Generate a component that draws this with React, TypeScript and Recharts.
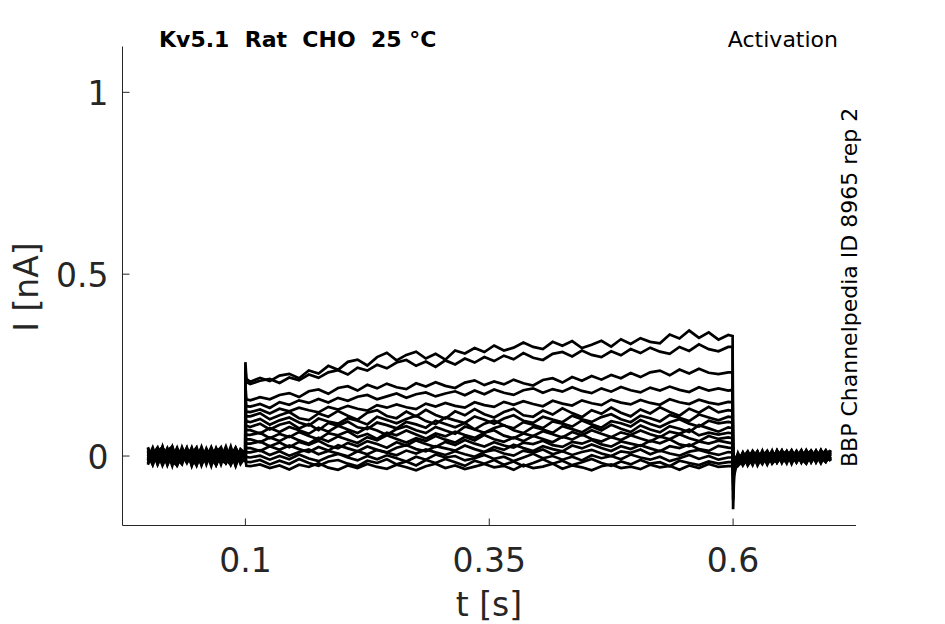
import React from 'react';
import { LineChart, Line, XAxis, YAxis } from 'recharts';

// sample times [s]
const preTimes = [0, 0.005, 0.01, 0.015, 0.02, 0.025, 0.03, 0.035, 0.04, 0.045, 0.05, 0.055, 0.06, 0.065, 0.07, 0.075, 0.08, 0.085, 0.09, 0.095];
const onsetTimes = [0.0999, 0.1, 0.101];
const stepTimes = [
  0.105, 0.115, 0.125, 0.135, 0.145, 0.155, 0.165, 0.175, 0.185, 0.195,
  0.205, 0.215, 0.225, 0.235, 0.245, 0.255, 0.265, 0.275, 0.285, 0.295,
  0.305, 0.315, 0.325, 0.335, 0.345, 0.355, 0.365, 0.375, 0.385, 0.395,
  0.405, 0.415, 0.425, 0.435, 0.445, 0.455, 0.465, 0.475, 0.485, 0.495,
  0.505, 0.515, 0.525, 0.535, 0.545, 0.555, 0.565, 0.575, 0.585, 0.595,
];
const offsetTimes = [0.5995, 0.6, 0.601, 0.603];
const postTimes = [0.605, 0.61, 0.615, 0.62, 0.625, 0.63, 0.635, 0.64, 0.645, 0.65, 0.655, 0.66, 0.665, 0.67, 0.675, 0.68, 0.685, 0.69, 0.695, 0.7];

// sweeps in pA: baseline / onset / step / offset / tail
const sweep01 = [
  11, -16, 20, 3, -8, 25, -22, -5, 16, -27, 8, 14, -4, -19, 12, 22, -10, -24, 5, 13,
  6, 258, 212,
  204, 215, 206, 221, 226, 214, 235, 227, 248, 237, 259, 265, 249, 272, 284, 263, 278, 287, 268, 281,
  265, 290, 282, 297, 286, 304, 290, 298, 312, 300, 294, 314, 303, 316, 297, 306, 317, 301, 321, 308,
  324, 314, 310, 334, 323, 345, 325, 340, 320, 333,
  330, -146, -55, -30,
  -24, -6, -19, 5, -14, 9, -22, -3, 12, -17, 2, -11, 14, -8, -21, 6, -4, 15, -13, 3,
];
const sweep02 = [
  -20, 9, -5, 22, 2, -15, -26, 17, -11, 7, 24, -21, -3, 15, -17, -7, 26, -12, 8, -18,
  -8, 240, 203,
  198, 207, 212, 201, 216, 208, 224, 215, 230, 236, 224, 243, 235, 251, 241, 257, 264, 248, 260, 245,
  263, 252, 268, 257, 272, 261, 276, 266, 283, 270, 264, 281, 286, 274, 290, 278, 272, 288, 277, 294,
  283, 298, 287, 281, 300, 289, 307, 294, 288, 300,
  300, -120, -45, -25,
  3, -23, -8, -15, 11, -18, -1, 9, -13, 4, -20, 13, -5, 7, -16, 10, -9, 0, 16, -11,
];
const sweep03 = [
  4, -24, 13, -9, 19, 6, -18, -3, 23, -21, 10, -12, 18, -6, -25, 5, 14, -15, 21, 1,
  3, 196, 156,
  153, 162, 156, 168, 173, 162, 178, 183, 171, 187, 192, 180, 196, 186, 199, 189, 184, 200, 191, 203,
  193, 187, 202, 208, 195, 205, 197, 210, 200, 194, 209, 214, 202, 217, 207, 220, 210, 223, 214, 228,
  217, 230, 235, 222, 238, 227, 240, 229, 225, 230,
  230, -95, -40, -22,
  -13, 7, -26, -4, -12, 2, 13, -21, -6, 10, -14, -3, 8, -18, 12, -7, 14, -16, 4, -8,
];
const sweep04 = [
  -12, 19, -23, 7, 15, -4, -19, 24, -9, 3, 17, -26, 9, -13, 22, -6, 12, -20, 16, -11,
  -5, 172, 137,
  136, 143, 132, 148, 141, 153, 146, 157, 147, 160, 152, 163, 168, 156, 164, 172, 160, 170, 175, 164,
  172, 178, 167, 180, 170, 183, 174, 168, 181, 186, 174, 184, 177, 189, 179, 173, 186, 177, 190, 181,
  175, 188, 180, 191, 182, 176, 189, 180, 186, 180,
  182, -80, -35, -18,
  5, -18, 1, -25, 7, -9, -17, 3, -10, 15, -8, 4, -17, 13, -3, -12, 5, -20, 9, 14,
];
const sweep05 = [
  16, -8, 3, -21, 12, -27, 20, 2, -5, 10, -15, 25, -11, 18, -23, 13, -4, 8, -18, 6,
  9, 150, 122,
  121, 128, 117, 130, 123, 133, 126, 120, 135, 128, 138, 130, 125, 140, 133, 142, 134, 129, 144, 136,
  146, 138, 133, 148, 140, 135, 149, 141, 151, 143, 137, 152, 144, 139, 153, 145, 140, 155, 147, 142,
  154, 146, 141, 156, 148, 143, 155, 147, 142, 149,
  148, -70, -30, -15,
  -21, -10, 9, -14, -3, -22, 5, -8, 14, -19, 8, -13, 3, -5, 15, -17, 1, 10, -14, -4,
];
const sweep06 = [
  -6, 23, -14, 11, -24, 4, 16, -17, 21, -8, -25, 13, 1, -20, 7, 24, -16, -2, 12, -22,
  -2, 132, 109,
  109, 118, 101, 112, 121, 104, 99, 117, 108, 124, 111, 100, 119, 126, 110, 104, 122, 109, 127, 113,
  103, 123, 112, 129, 115, 106, 121, 130, 112, 108, 125, 114, 131, 118, 107, 126, 116, 133, 119, 109,
  128, 117, 134, 121, 111, 130, 119, 135, 120, 126,
  124, -60, -28, -14,
  -7, 4, -16, 8, -26, 0, -12, 15, -18, -1, 12, -21, 10, -10, 4, 13, -18, 6, -7, 12,
];
const sweep07 = [
  22, -12, 7, -18, 15, 26, -11, -2, 19, -26, 12, -7, 4, 16, -23, 8, -14, 21, -9, 3,
  11, 118, 96,
  93, 102, 86, 98, 106, 92, 84, 103, 95, 89, 104, 97, 87, 108, 99, 90, 102, 111, 96, 88,
  106, 98, 91, 109, 100, 89, 103, 112, 97, 91, 108, 100, 93, 111, 101, 94, 107, 115, 101, 93,
  111, 104, 95, 113, 105, 96, 114, 106, 98, 108,
  106, -52, -25, -12,
  -27, -13, 5, -19, 10, -14, 6, -5, -16, 8, -4, 16, -9, 0, -19, 8, -12, 16, -3, -13,
];
const sweep08 = [
  -16, 4, 24, -11, -3, 18, -22, 9, 1, -14, 20, -19, 11, -27, 16, -5, 7, -9, 23, -4,
  -10, 104, 83,
  80, 89, 73, 86, 93, 76, 88, 71, 91, 83, 95, 79, 74, 92, 85, 76, 94, 87, 78, 97,
  88, 79, 91, 73, 89, 98, 84, 76, 93, 86, 77, 95, 89, 81, 98, 87, 78, 96, 90, 81,
  99, 88, 80, 93, 101, 89, 81, 97, 90, 94,
  92, -45, -22, -10,
  8, -21, -5, 12, -12, 4, -23, 10, 1, -13, 14, -7, -14, 9, 6, -9, 15, -5, -17, 8,
];
const sweep09 = [
  7, -19, 12, 25, -24, 14, -8, 20, -15, 5, -4, -22, 15, 9, -11, 19, -18, 11, -26, 16,
  4, 92, 71,
  71, 62, 77, 66, 80, 71, 61, 78, 67, 83, 73, 63, 79, 70, 58, 74, 82, 71, 63, 80,
  70, 61, 81, 73, 64, 77, 85, 71, 63, 80, 73, 64, 82, 74, 65, 81, 70, 86, 75, 66,
  84, 73, 65, 82, 75, 66, 85, 76, 67, 79,
  77, -40, -20, -10,
  -17, 1, -22, -3, 13, -17, 9, -12, 5, -9, -17, 10, -1, 15, -12, -4, 9, -13, 13, -8,
];
const sweep10 = [
  -10, 14, -18, 23, -7, 8, -25, 3, 19, -20, 11, 1, -13, 22, -3, -16, 14, -24, 5, 10,
  -6, 80, 58,
  58, 64, 49, 61, 52, 66, 55, 46, 63, 57, 68, 52, 61, 47, 64, 57, 70, 59, 48, 62,
  54, 67, 58, 50, 64, 71, 56, 49, 62, 55, 68, 60, 51, 66, 57, 71, 61, 52, 65, 58,
  70, 60, 52, 67, 61, 73, 57, 64, 59, 64,
  62, -35, -18, -8,
  -3, -16, 10, -9, -20, 12, -7, 1, -18, 13, 3, -12, 12, -16, 5, 14, -8, 3, -10, 16,
];
const sweep11 = [
  19, -3, -12, 8, 16, -22, 1, 12, -8, 23, -18, 7, -14, 4, 18, -11, -20, 15, -27, 9,
  13, 68, 46,
  46, 38, 51, 41, 55, 43, 34, 50, 40, 54, 45, 36, 52, 43, 57, 47, 37, 49, 41, 55,
  45, 37, 53, 43, 58, 46, 39, 51, 41, 55, 47, 38, 53, 45, 59, 47, 40, 52, 44, 57,
  48, 40, 54, 46, 60, 49, 41, 55, 47, 51,
  49, -30, -16, -7,
  -23, 9, -12, 14, -5, -13, 3, -18, 15, -4, -10, 6, -18, 4, -3, 10, -16, 12, 1, -12,
];
const sweep12 = [
  -24, 12, 5, -15, 10, 20, -9, -4, 14, -16, 3, 22, -23, 12, -7, 8, -12, 26, -19, 0,
  -12, 56, 34,
  34, 40, 27, 37, 24, 39, 31, 42, 28, 21, 36, 27, 41, 33, 23, 38, 29, 43, 33, 25,
  39, 30, 44, 34, 26, 38, 29, 23, 37, 33, 42, 30, 25, 39, 34, 44, 32, 26, 40, 34,
  28, 42, 35, 46, 32, 27, 40, 34, 42, 37,
  35, -26, -14, -6,
  0, -26, -3, -18, 8, -7, 14, -10, -4, 16, -16, 1, 9, -12, 16, -8, 4, -14, 8, 0,
];
const sweep13 = [
  2, 16, -22, 14, -11, -5, 23, -14, 7, 18, -25, 10, 3, -18, 20, -1, 11, -9, -15, 19,
  7, 44, 22,
  22, 14, 27, 17, 29, 19, 11, 25, 15, 30, 21, 13, 26, 17, 10, 23, 30, 19, 13, 27,
  21, 15, 29, 19, 11, 25, 17, 31, 22, 14, 27, 19, 13, 29, 21, 32, 22, 14, 27, 19,
  30, 21, 13, 27, 22, 32, 19, 14, 28, 23,
  22, -22, -12, -5,
  -12, -4, 13, -12, -14, 15, -17, 5, 9, -14, 6, -19, 4, 12, -9, 3, -13, 8, -5, 15,
];
const sweep14 = [
  13, -23, 18, -2, 6, -19, 11, 15, -16, -7, 12, -15, 21, -8, -22, 15, -5, 4, 22, -12,
  -3, 32, 10,
  10, 16, 3, 13, 1, 11, 18, 5, 14, 7, -1, 13, 5, 17, 9, 2, 15, 7, 18, 10,
  3, 13, 5, -2, 11, 17, 7, 1, 15, 9, 18, 5, 13, 3, 11, 17, 7, 0, 13, 9,
  18, 5, 15, 7, 1, 12, 17, 9, 3, 11,
  10, -18, -10, -4,
  -18, 10, -17, 3, -9, -1, 12, -14, -8, 4, 13, -9, -6, 16, -14, 12, -1, -10, 14, -6,
];
const sweep15 = [
  -4, 8, -16, 26, -20, 11, -7, -23, 16, 4, -11, 18, -5, 24, -14, 3, -19, 10, -3, 15,
  10, 18, -3,
  -4, 1, -10, 0, -9, 4, -7, -14, -2, 6, -4, -12, 0, -9, 2, -6, -15, -2, -10, 4,
  -4, 0, -12, -6, 3, -8, -2, -14, -4, 6, -6, 0, -10, -2, -12, 2, -6, 0, -9, 4,
  -4, -10, -2, -14, -6, 3, -8, 0, -10, -4,
  -4, -14, -8, -3,
  4, -12, 5, -22, 12, -18, -4, 13, -17, 0, -5, 14, -12, -3, 8, -17, 13, -4, -9, 10,
];
const sweep16 = [
  24, -15, 0, -6, 22, -12, 15, 5, -19, 10, 16, -8, -17, 6, 13, -23, 18, -13, 7, -2,
  -14, 6, -16,
  -17, -11, -23, -13, -22, -8, -19, -27, -15, -11, -21, -28, -13, -19, -9, -23, -15, -26, -11, -19,
  -8, -17, -27, -13, -21, -11, -24, -15, -28, -19, -9, -21, -13, -25, -17, -8, -19, -27, -15, -23,
  -11, -21, -17, -28, -13, -19, -25, -15, -21, -17,
  -17, -20, -12, -6,
  -8, -19, -9, 9, -16, 6, -8, -13, 16, -10, 9, -3, 13, -17, 1, 6, -10, 16, -15, 5,
];
const sweep17 = [
  -14, 6, 11, -26, 3, 17, -20, 12, -4, 21, -10, -14, 7, 15, -19, 10, -3, -7, 19, -16,
  1, -8, -27,
  -28, -23, -33, -26, -37, -24, -30, -20, -32, -38, -26, -33, -22, -30, -35, -24, -31, -39, -28, -21,
  -33, -26, -36, -29, -22, -31, -27, -38, -24, -33, -29, -21, -35, -26, -31, -39, -28, -23, -33, -29,
  -36, -24, -31, -27, -38, -26, -33, -22, -30, -28,
  -28, -30, -16, -8,
  -16, 3, -23, -6, 4, -12, 10, -4, -12, 6, -13, 12, -15, 5, -8, 15, -5, -8, 10, -14,
];

const xTicks = [0.1, 0.35, 0.6];
const yTicks = [0, 0.5, 1];

const sweeps = [
  sweep01, sweep02, sweep03, sweep04, sweep05, sweep06, sweep07, sweep08, sweep09,
  sweep10, sweep11, sweep12, sweep13, sweep14, sweep15, sweep16, sweep17,
];
const times = [...preTimes, ...onsetTimes, ...stepTimes, ...offsetTimes, ...postTimes];

const rows = times.map((t, i) => {
  const row: Record<string, number> = { t };
  sweeps.forEach((s, k) => {
    row[`s${k + 1}`] = s[i] / 1000; // pA -> nA
  });
  return row;
});

const W = 945;
const H = 624;
const LEFT = 122.5;
const RIGHT = 856;
const TOP = 46.5;
const BOTTOM = 525.5;
const AXIS = '#262626';
const FONT = '"DejaVu Sans", sans-serif';

const XTick = (props: any) => {
  const { x, payload } = props;
  return (
    <g>
      <line x1={x} x2={x} y1={BOTTOM} y2={BOTTOM - 7} stroke={AXIS} strokeWidth={1} />
      <text x={x} y={BOTTOM + 46.5} textAnchor="middle" fontSize={33} fill={AXIS} fontFamily={FONT}>
        {String(payload.value)}
      </text>
    </g>
  );
};

const YTick = (props: any) => {
  const { y, payload } = props;
  return (
    <g>
      <line x1={LEFT} x2={LEFT + 7} y1={y} y2={y} stroke={AXIS} strokeWidth={1} />
      <text x={LEFT - 14} y={y + 12.5} textAnchor="end" fontSize={33} fill={AXIS} fontFamily={FONT}>
        {String(payload.value)}
      </text>
    </g>
  );
};

export default function App() {
  return (
    <div style={{ position: 'absolute', left: 0, top: 0, width: W, height: H, background: '#fff' }}>
      <LineChart
        width={W}
        height={H}
        data={rows}
        margin={{ top: TOP, right: W - RIGHT, bottom: H - BOTTOM - 30, left: LEFT - 60 }}
      >
        <XAxis
          dataKey="t"
          type="number"
          domain={[-0.026, 0.726]}
          ticks={xTicks}
          interval={0}
          height={30}
          tickLine={false}
          axisLine={{ stroke: AXIS }}
          tick={<XTick />}
        />
        <YAxis
          type="number"
          domain={[-0.191, 1.126]}
          ticks={yTicks}
          interval={0}
          width={60}
          tickLine={false}
          axisLine={{ stroke: AXIS }}
          tick={<YTick />}
        />
        {sweeps.map((_, k) => (
          <Line
            key={k}
            type="linear"
            dataKey={`s${k + 1}`}
            stroke="#000"
            strokeWidth={2.7}
            dot={false}
            activeDot={false}
            isAnimationActive={false}
          />
        ))}
      </LineChart>
      <svg
        width={W}
        height={H}
        style={{ position: 'absolute', left: 0, top: 0, pointerEvents: 'none' }}
        fontFamily={FONT}
      >
        <text x={159} y={46.5} fontSize={22} fontWeight="bold" fill="#000">
          Kv5.1{'\u00a0\u00a0'}Rat{'\u00a0\u00a0'}CHO{'\u00a0\u00a0'}25 °C
        </text>
        <text x={838} y={46.5} fontSize={22} textAnchor="end" fill="#000">
          Activation
        </text>
        <text x={857} y={467} fontSize={22} fill="#000" transform="rotate(-90 857 467)">
          BBP Channelpedia ID 8965 rep 2
        </text>
        <text x={38} y={287} fontSize={33} textAnchor="middle" fill={AXIS} transform="rotate(-90 38 287)">
          I [nA]
        </text>
        <text x={489} y={616} fontSize={33} textAnchor="middle" fill={AXIS}>
          t [s]
        </text>
      </svg>
    </div>
  );
}
